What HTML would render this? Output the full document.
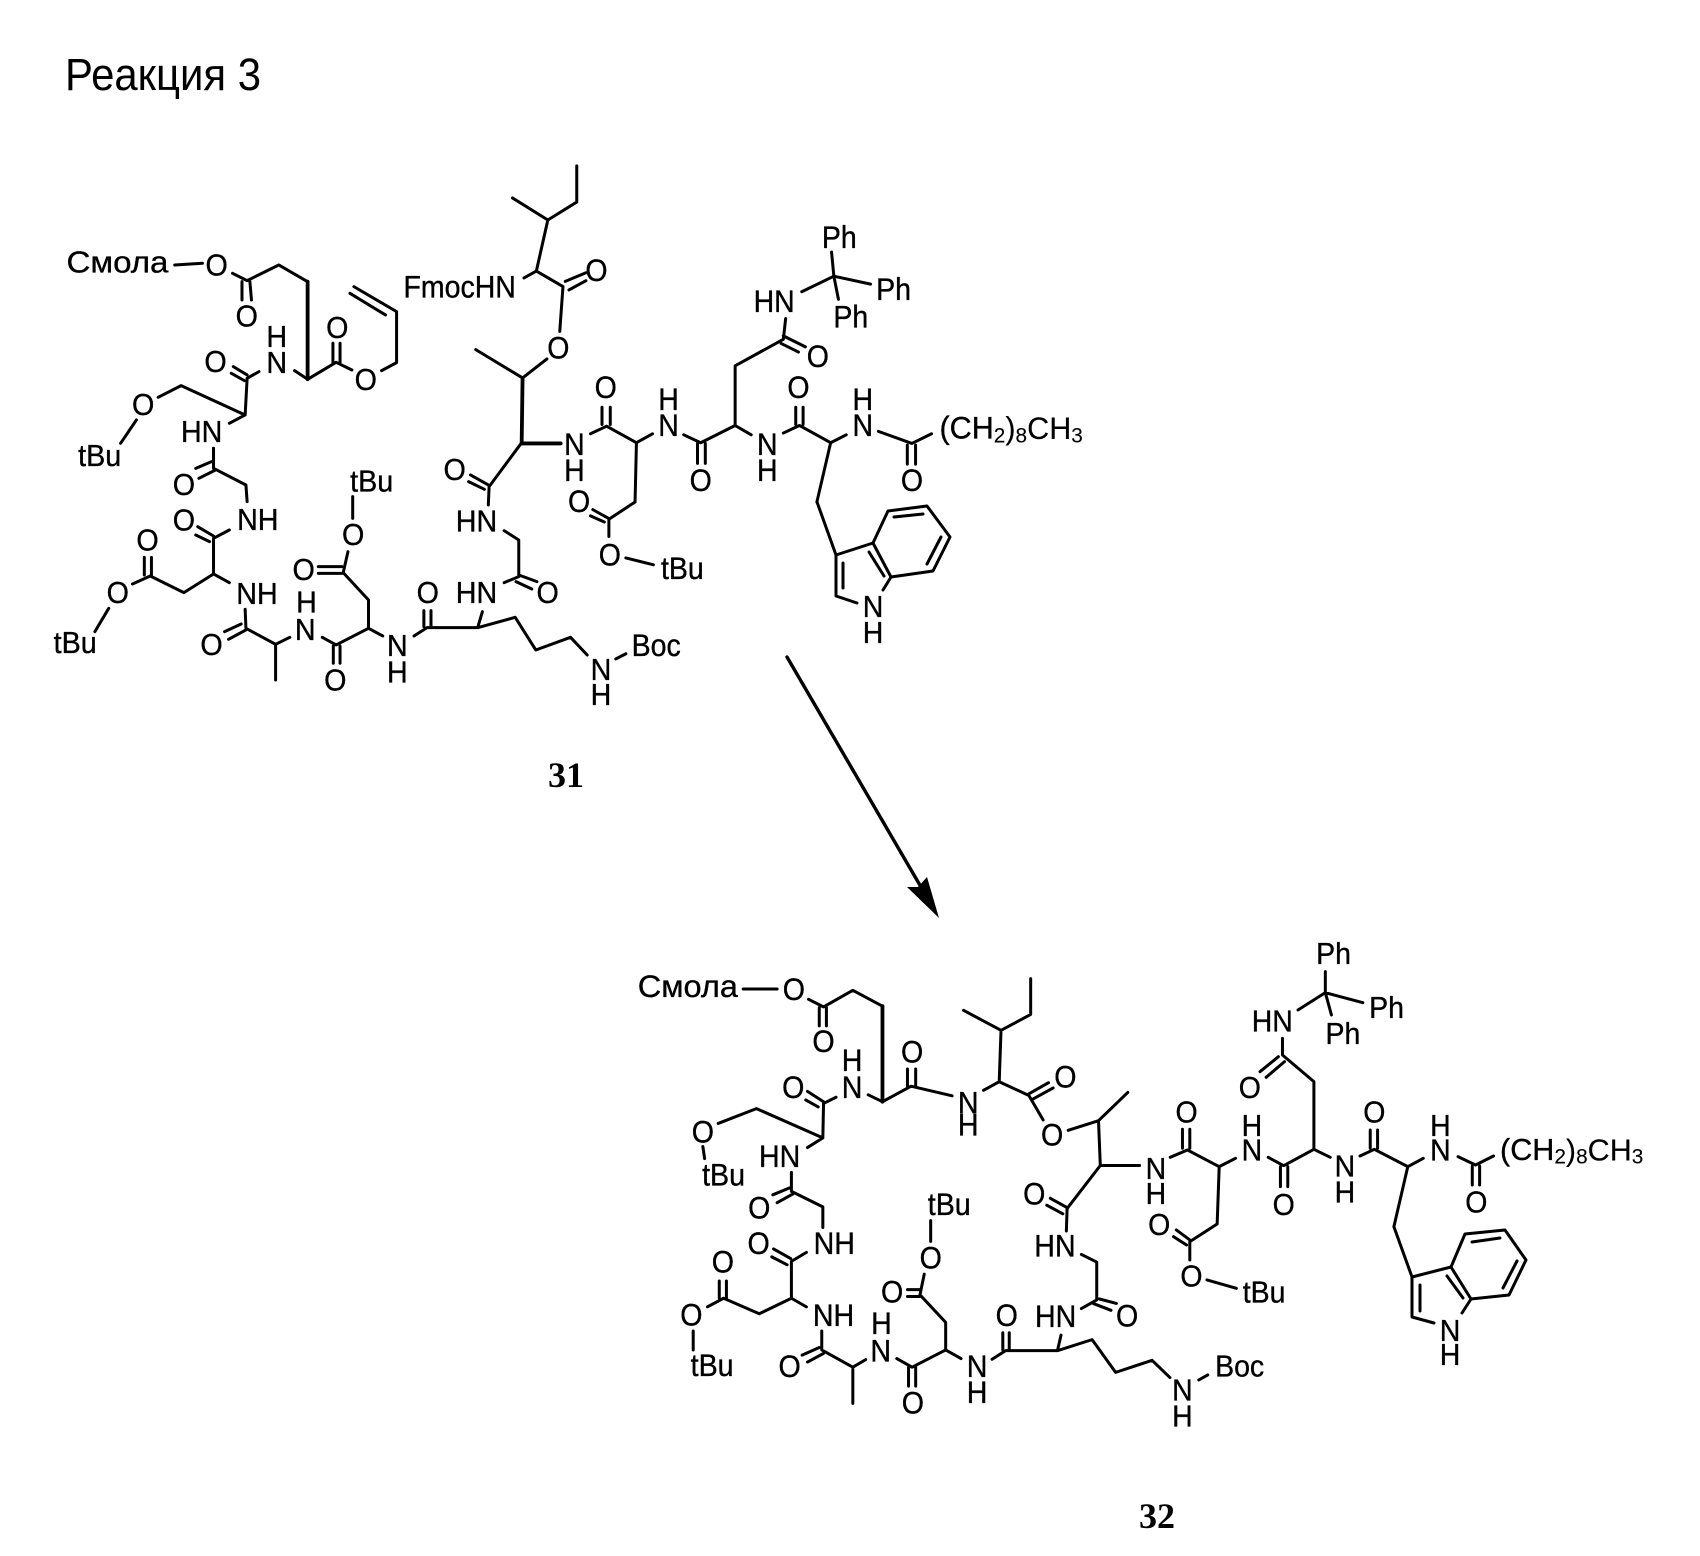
<!DOCTYPE html>
<html><head><meta charset="utf-8"><style>
html,body{margin:0;padding:0;background:#fff}
svg{display:block}
path{fill:none;stroke:#000;stroke-width:3;vector-effect:non-scaling-stroke;stroke-linecap:round;stroke-linejoin:round}
path.t{stroke-width:3.8}
text{font-family:"Liberation Sans",sans-serif;text-anchor:middle;dominant-baseline:central;fill:#000}
g text{stroke:#000;stroke-width:.35px;vector-effect:non-scaling-stroke}
text.s{text-anchor:start}
.a text{font-size:93px}.c text{font-size:90px}.d text{font-size:90px}.e text{font-size:93px}
.r text{font-size:31px}
tspan.u{font-size:.68em}
</style></head><body>
<svg xmlns="http://www.w3.org/2000/svg" width="1700" height="1556" viewBox="0 0 1700 1556">
<rect width="1700" height="1556" fill="#fff"/>
<text x="65" y="90" style="font-size:45px;text-anchor:start;dominant-baseline:auto" textLength="196" lengthAdjust="spacingAndGlyphs">Реакция 3</text>
<text x="566" y="775" style="font:bold 36px 'Liberation Serif',serif">31</text>
<text x="1157" y="1516" style="font:bold 36px 'Liberation Serif',serif">32</text>
<path d="M787 657L921 887" style="stroke-width:3.4"/>
<polygon points="939,918 907,887 918,887 927,877" fill="#000"/>

<!-- indole rings -->
<g class="r">
<path d="M817 502L836 555L873 543L888 511L927 506L950 537L933 571L891 577L873 543M836 555L836 596L857 603M891 577L883 590M894 517L923 514M941 537L927 564M869 552L884 576M843 563L843 588"/>
<text transform="matrix(.92 0 0 1 873 607)">N</text>
<text transform="matrix(.92 0 0 1 873 633)">H</text>
<path d="M1394 1227L1412 1277L1451 1267L1465 1234L1505 1230L1526 1260L1509 1295L1471 1299L1451 1267M1412 1277L1412 1317L1434 1323M1471 1299L1462 1313M1472 1242L1500 1238M1517 1261L1503 1288M1447 1276L1463 1298M1420 1285L1420 1311"/>
<text transform="matrix(.92 0 0 1 1450 1331)">N</text>
<text transform="matrix(.92 0 0 1 1450 1355)">H</text>
</g>

<!-- compound 31, upper left -->
<g class="a" transform="translate(0 0) scale(.3954 .3333)">
<path d="M442 795L512 790M588 820L625 842L705 795L778 845M612 845L612 900M632 845L636 900M778 1138L850 1087L890 1110M842 1087L842 1030M860 1087L860 1030M965 1112L1003 1088L1003 935L895 860M975 945L885 880M745 1112L778 1138M655 1115L625 1135M590 1100L625 1125M585 1120L618 1142M625 1135L620 1245L458 1157L400 1192M345 1260L305 1330M620 1245L580 1270M540 1345L540 1405"/>
<path class="t" d="M778 845L778 1138"/>
<text transform="matrix(.9 0 0 1 297 785)">Смола</text>
<text transform="matrix(.78 0 0 1 548 797)">O</text>
<text transform="matrix(.78 0 0 1 624 950)">O</text>
<text transform="matrix(.78 0 0 1 853 985)">O</text>
<text transform="matrix(.78 0 0 1 925 1140)">O</text>
<text transform="matrix(.78 0 0 1 700 1090)">N</text>
<text transform="matrix(.78 0 0 1 700 1012)">H</text>
<text transform="matrix(.78 0 0 1 545 1087)">O</text>
<text transform="matrix(.78 0 0 1 362 1215)">O</text>
<text transform="matrix(.78 0 0 1 252 1368)">tBu</text>
<text transform="matrix(.78 0 0 1 510 1297)">HN</text>
</g>

<!-- compound 31, lower left -->
<g class="a" transform="translate(0 400) scale(.3954 .3333)">
<path d="M540 145L540 205L622 255L625 305M495 205L535 185M503 235L545 210M580 390L540 415L540 522L580 548M500 380L540 408M495 405L530 425M540 522L465 578L380 528L335 552M365 525L365 472M383 525L383 472M275 625L240 695M620 628L622 685L697 733L697 840M568 695L610 672M578 718L622 690M697 733L733 712M815 712L850 735L932 685L968 708M843 738L843 790M860 738L860 790M932 685L932 600L868 518L880 455M805 500L865 500M805 520L865 520M892 355L892 290M1047 708L1080 683L1208 683L1303 652L1355 750L1443 712L1485 765M1072 680L1072 632M1090 680L1090 632M1208 683L1220 635M1275 548L1312 530L1312 420L1275 392M1312 525L1358 545M1305 545L1345 567M1235 315L1237 260L1320 127M1190 225L1235 255M1185 245L1225 268"/>
<text transform="matrix(.78 0 0 1 465 255)">O</text>
<text transform="matrix(.78 0 0 1 652 360)">NH</text>
<text transform="matrix(.78 0 0 1 465 362)">O</text>
<text transform="matrix(.78 0 0 1 650 582)">NH</text>
<text transform="matrix(.78 0 0 1 373 422)">O</text>
<text transform="matrix(.78 0 0 1 298 580)">O</text>
<text transform="matrix(.78 0 0 1 190 730)">tBu</text>
<text transform="matrix(.78 0 0 1 535 735)">O</text>
<text transform="matrix(.78 0 0 1 772 690)">N</text>
<text transform="matrix(.78 0 0 1 775 608)">H</text>
<text transform="matrix(.78 0 0 1 848 842)">O</text>
<text transform="matrix(.78 0 0 1 768 510)">O</text>
<text transform="matrix(.78 0 0 1 893 405)">O</text>
<text transform="matrix(.78 0 0 1 940 245)">tBu</text>
<text transform="matrix(.78 0 0 1 1005 738)">N</text>
<text transform="matrix(.78 0 0 1 1005 818)">H</text>
<text transform="matrix(.78 0 0 1 1082 580)">O</text>
<text transform="matrix(.78 0 0 1 1520 810)">N</text>
<text transform="matrix(.78 0 0 1 1520 885)">H</text>
<text transform="matrix(.78 0 0 1 1205 580)">HN</text>
<text transform="matrix(.78 0 0 1 1385 580)">O</text>
<text transform="matrix(.78 0 0 1 1205 365)">HN</text>
<text transform="matrix(.78 0 0 1 1150 210)">O</text>
</g>

<!-- compound 31, right -->
<g class="c" transform="translate(400 140) scale(.4591 .3448)">
<path d="M385 75L385 180L322 232L245 168M322 232L297 380L270 400M297 380L355 425L348 555M360 410L405 385M368 435L405 408M320 635L267 690L165 608M415 852L450 830L515 878L550 852M440 825L440 775M458 825L458 775M515 878L512 1050L455 1100L455 1150M420 1072L455 1098M415 1090L445 1108M492 1212L552 1232M618 855L655 878L730 828L765 855M648 880L648 938M665 880L665 938M730 828L730 655L835 578L840 518M835 568L883 600M830 590L868 615M875 440L945 395L1025 418M940 325L945 395L955 462M835 850L870 828L938 878L972 855M862 825L862 775M878 825L878 775M1042 845L1115 880L1158 852M1105 885L1105 940M1123 885L1123 940M938 878L908 1050M470 1505L492 1490"/>
<path class="t" d="M267 690L265 880L350 880"/>
<text transform="matrix(.69 0 0 1 130 428)">FmocHN</text>
<text transform="matrix(.69 0 0 1 428 380)">O</text>
<text transform="matrix(.69 0 0 1 345 605)">O</text>
<text transform="matrix(.69 0 0 1 380 885)">N</text>
<text transform="matrix(.69 0 0 1 380 960)">H</text>
<text transform="matrix(.69 0 0 1 448 720)">O</text>
<text transform="matrix(.69 0 0 1 585 830)">N</text>
<text transform="matrix(.69 0 0 1 585 755)">H</text>
<text transform="matrix(.69 0 0 1 390 1050)">O</text>
<text transform="matrix(.69 0 0 1 457 1205)">O</text>
<text transform="matrix(.69 0 0 1 615 1245)">tBu</text>
<text transform="matrix(.69 0 0 1 655 990)">O</text>
<text transform="matrix(.69 0 0 1 800 885)">N</text>
<text transform="matrix(.69 0 0 1 800 960)">H</text>
<text transform="matrix(.69 0 0 1 815 470)">HN</text>
<text transform="matrix(.69 0 0 1 910 630)">O</text>
<text transform="matrix(.69 0 0 1 957 285)">Ph</text>
<text transform="matrix(.69 0 0 1 1075 435)">Ph</text>
<text transform="matrix(.69 0 0 1 982 515)">Ph</text>
<text transform="matrix(.69 0 0 1 868 720)">O</text>
<text transform="matrix(.69 0 0 1 1008 830)">N</text>
<text transform="matrix(.69 0 0 1 1008 755)">H</text>
<text transform="matrix(.69 0 0 1 1115 990)">O</text>
<text class="s" transform="matrix(.74 0 0 1 1175 835)">(CH<tspan class="u" dy="22">2</tspan><tspan dy="-22">)</tspan><tspan class="u" dy="22">8</tspan><tspan dy="-22">CH</tspan><tspan class="u" dy="22">3</tspan></text>
<text transform="matrix(.69 0 0 1 558 1468)">Boc</text>
</g>

<!-- compound 32, left -->
<g class="d" transform="translate(620 900) scale(.3571 .3448)">
<path d="M345 258L440 258M528 288L570 310L652 262L735 308M558 312L558 365M578 312L578 365M735 585L695 565M605 572L570 590L568 690L382 605L275 648M525 555L570 585M520 580L555 600M232 715L237 750M568 690L525 718M480 790L480 845L568 890L568 950M428 855L475 835M440 878L485 852M522 1022L480 1048L480 1155L522 1180M430 1012L478 1040M425 1035L468 1058M480 1155L390 1200L290 1155L245 1180M278 1155L278 1105M298 1155L298 1105M205 1250L205 1305M565 1250L565 1305L652 1355L652 1460M510 1320L558 1298M525 1340L570 1315M652 1355L688 1333M775 1330L818 1355L912 1305L955 1330M808 1355L808 1410M828 1355L828 1410M912 1305L912 1225L840 1145L852 1085M805 1130L840 1130M805 1150L840 1150M870 990L870 930M1042 1332L1080 1307L1225 1307L1322 1275L1388 1370L1490 1335L1540 1385M1072 1305L1072 1255M1090 1305L1090 1255M1225 1307L1235 1262M1292 1185L1335 1160L1335 1050L1292 1028M1335 1155L1390 1170M1325 1170L1375 1190M1250 960L1252 895L1345 770L1455 770M1205 865L1252 892M1195 885L1240 910M1345 770L1340 640M1150 228L1150 332L1067 378L962 320M1067 378L1062 525M735 585L815 540L930 568M805 540L805 490M828 540L828 490M1018 552L1062 527L1145 567L1185 638M1145 562L1200 530M1155 578L1213 545M1255 668L1340 640L1422 558"/>
<path class="t" d="M735 308L735 585"/>
<text transform="matrix(1.01 0 0 1 190 250)">Смола</text>
<text transform="matrix(.89 0 0 1 487 262)">O</text>
<text transform="matrix(.89 0 0 1 570 412)">O</text>
<text transform="matrix(.89 0 0 1 650 545)">N</text>
<text transform="matrix(.89 0 0 1 650 468)">H</text>
<text transform="matrix(.89 0 0 1 485 545)">O</text>
<text transform="matrix(.89 0 0 1 232 675)">O</text>
<text transform="matrix(.89 0 0 1 290 800)">tBu</text>
<text transform="matrix(.89 0 0 1 447 745)">HN</text>
<text transform="matrix(.89 0 0 1 390 895)">O</text>
<text transform="matrix(.89 0 0 1 600 998)">NH</text>
<text transform="matrix(.89 0 0 1 388 998)">O</text>
<text transform="matrix(.89 0 0 1 598 1207)">NH</text>
<text transform="matrix(.89 0 0 1 288 1052)">O</text>
<text transform="matrix(.89 0 0 1 200 1205)">O</text>
<text transform="matrix(.89 0 0 1 258 1352)">tBu</text>
<text transform="matrix(.89 0 0 1 475 1355)">O</text>
<text transform="matrix(.89 0 0 1 730 1310)">N</text>
<text transform="matrix(.89 0 0 1 732 1230)">H</text>
<text transform="matrix(.89 0 0 1 820 1460)">O</text>
<text transform="matrix(.89 0 0 1 762 1138)">O</text>
<text transform="matrix(.89 0 0 1 870 1040)">O</text>
<text transform="matrix(.89 0 0 1 922 885)">tBu</text>
<text transform="matrix(.89 0 0 1 1000 1355)">N</text>
<text transform="matrix(.89 0 0 1 1000 1430)">H</text>
<text transform="matrix(.89 0 0 1 1083 1207)">O</text>
<text transform="matrix(.89 0 0 1 1220 1210)">HN</text>
<text transform="matrix(.89 0 0 1 1420 1208)">O</text>
<text transform="matrix(.89 0 0 1 1218 1005)">HN</text>
<text transform="matrix(.89 0 0 1 1160 855)">O</text>
<text transform="matrix(.89 0 0 1 818 443)">O</text>
<text transform="matrix(.89 0 0 1 975 590)">N</text>
<text transform="matrix(.89 0 0 1 975 655)">H</text>
<text transform="matrix(.89 0 0 1 1247 515)">O</text>
<text transform="matrix(.89 0 0 1 1210 683)">O</text>
</g>

<!-- compound 32, right -->
<g class="e" transform="translate(1060 920) scale(.4082 .3333)">
<path d="M270 712L312 690L390 740L430 715M300 685L300 628M318 685L318 628M390 740L385 912L318 965L318 1020M285 930L318 960M278 950L310 975M360 1080L432 1105M510 712L548 737L622 688L662 712M540 740L540 800M558 740L558 800M622 688L622 485L545 405L545 355M535 410L490 455M550 425L505 472M583 270L650 218L742 248M650 155L650 218L665 285M735 708L770 688L852 740L890 715M760 685L760 630M778 685L778 630M975 710L1018 735L1062 708M1010 738L1010 795M1028 738L1028 795M852 740L818 920M340 1380L362 1365"/>
<text transform="matrix(.75 0 0 1 235 748)">N</text>
<text transform="matrix(.75 0 0 1 235 822)">H</text>
<text transform="matrix(.75 0 0 1 310 578)">O</text>
<text transform="matrix(.75 0 0 1 470 692)">N</text>
<text transform="matrix(.75 0 0 1 470 618)">H</text>
<text transform="matrix(.75 0 0 1 243 915)">O</text>
<text transform="matrix(.75 0 0 1 322 1070)">O</text>
<text transform="matrix(.75 0 0 1 500 1118)">tBu</text>
<text transform="matrix(.75 0 0 1 548 855)">O</text>
<text transform="matrix(.75 0 0 1 698 740)">N</text>
<text transform="matrix(.75 0 0 1 698 818)">H</text>
<text transform="matrix(.75 0 0 1 520 305)">HN</text>
<text transform="matrix(.75 0 0 1 465 505)">O</text>
<text transform="matrix(.75 0 0 1 670 103)">Ph</text>
<text transform="matrix(.75 0 0 1 800 265)">Ph</text>
<text transform="matrix(.75 0 0 1 693 342)">Ph</text>
<text transform="matrix(.75 0 0 1 770 578)">O</text>
<text transform="matrix(.75 0 0 1 932 692)">N</text>
<text transform="matrix(.75 0 0 1 932 618)">H</text>
<text transform="matrix(.75 0 0 1 1020 848)">O</text>
<text class="s" transform="matrix(.805 0 0 1 1078 688)">(CH<tspan class="u" dy="22">2</tspan><tspan dy="-22">)</tspan><tspan class="u" dy="22">8</tspan><tspan dy="-22">CH</tspan><tspan class="u" dy="22">3</tspan></text>
<text transform="matrix(.75 0 0 1 300 1412)">N</text>
<text transform="matrix(.75 0 0 1 300 1490)">H</text>
<text transform="matrix(.75 0 0 1 440 1340)">Boc</text>
</g>
</svg>
</body></html>
